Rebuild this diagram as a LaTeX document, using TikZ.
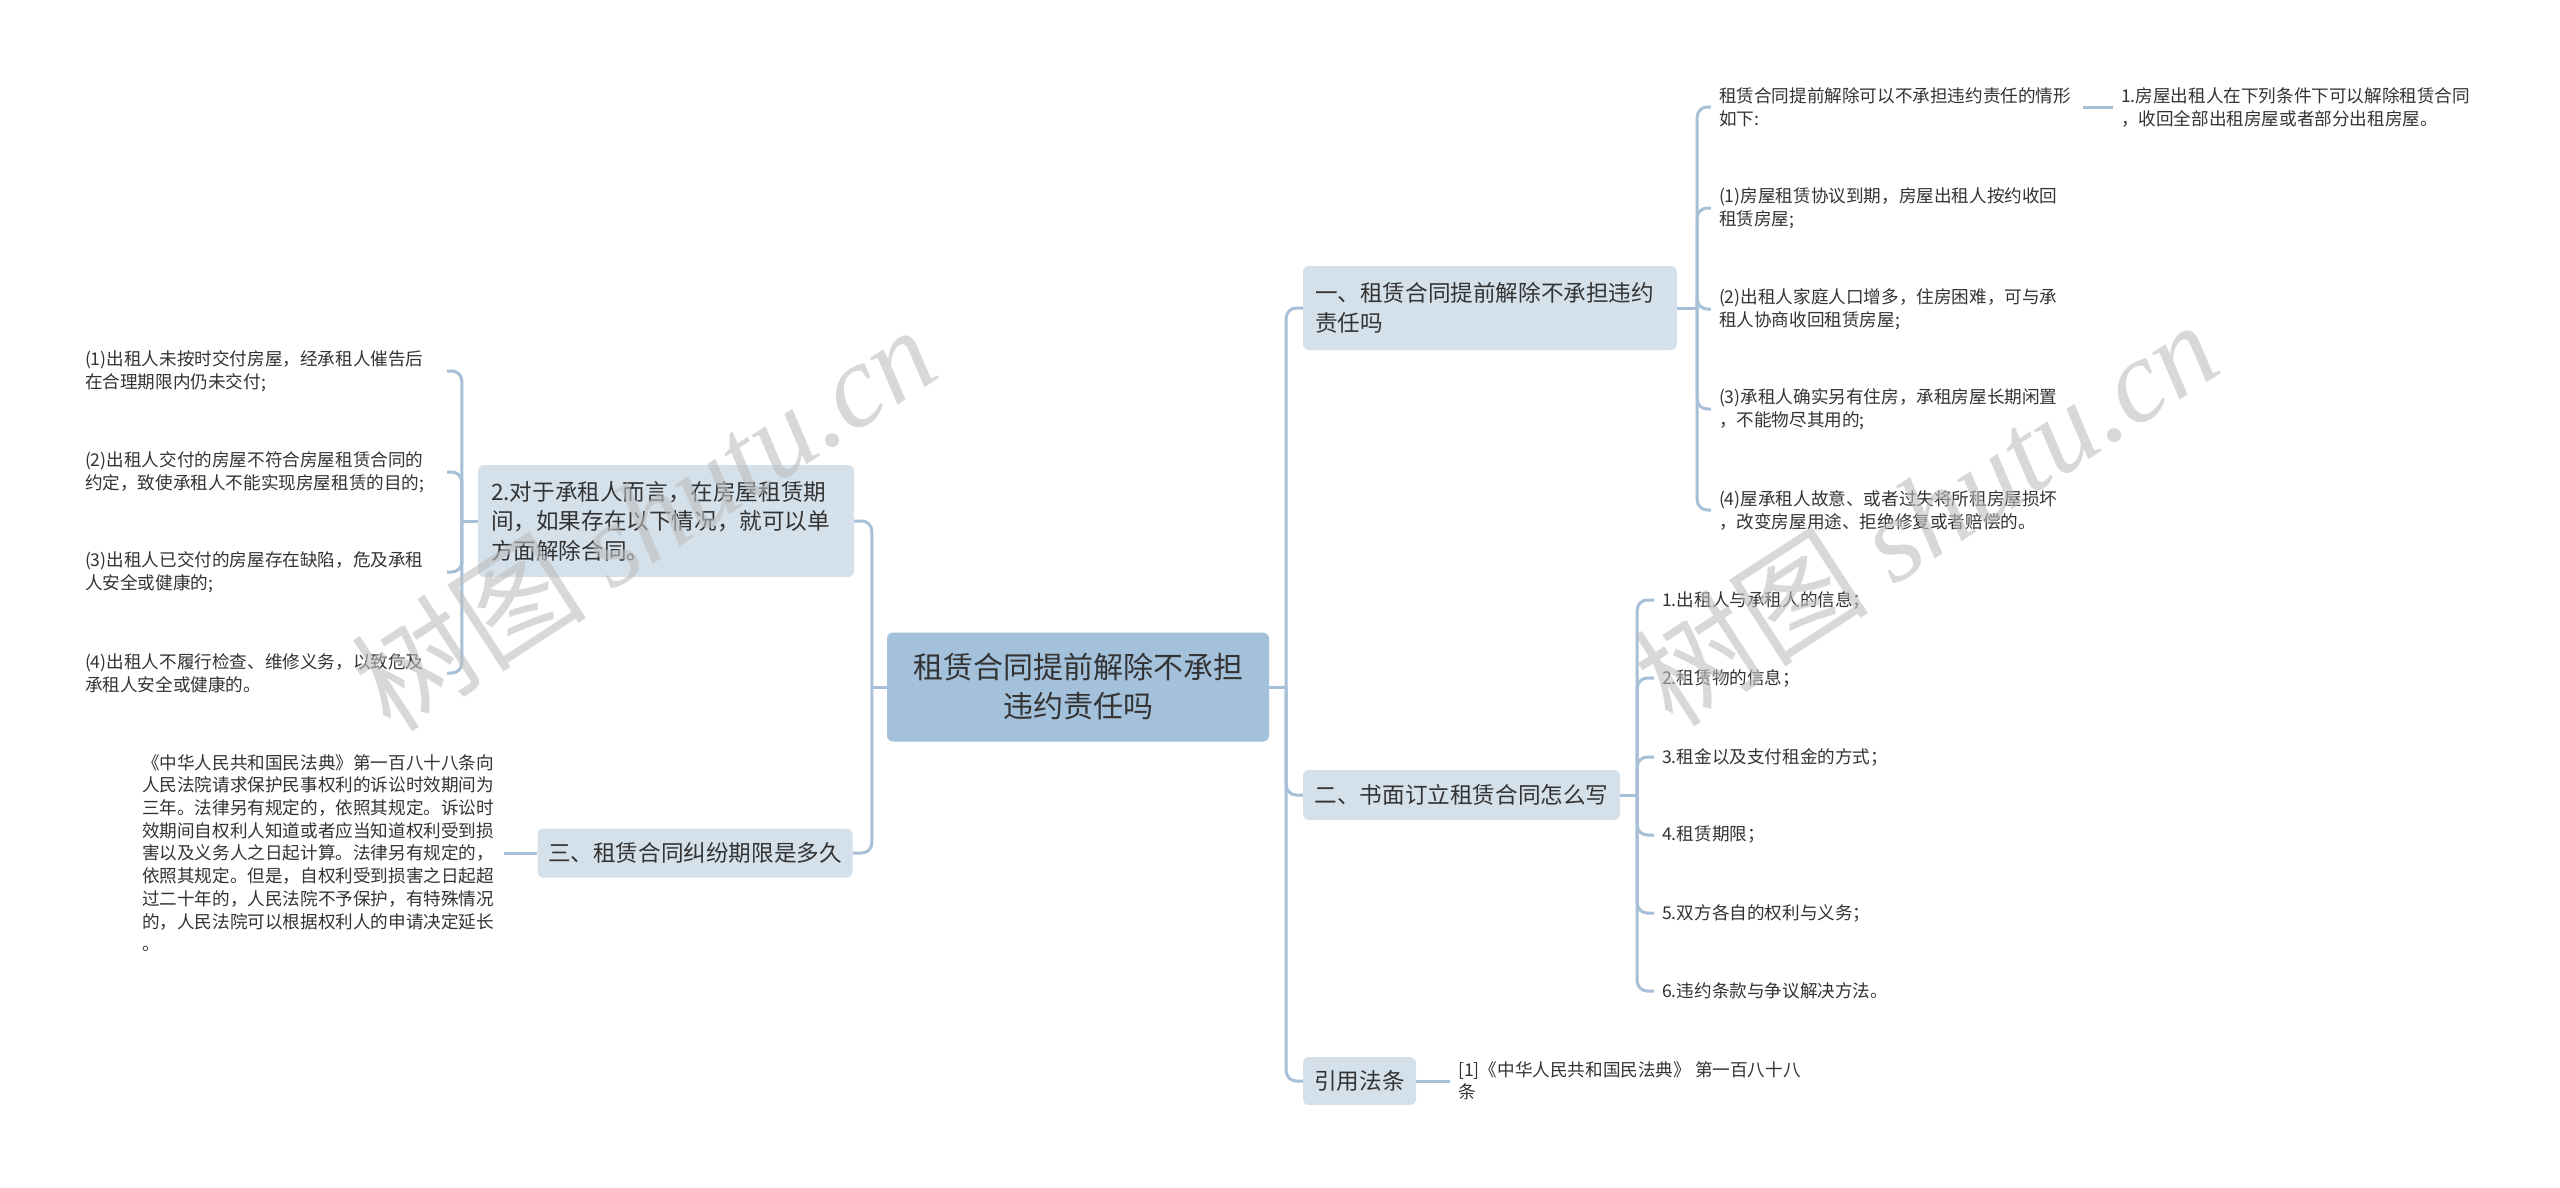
\documentclass[tikz,border=0pt]{standalone}
\usepackage{fontspec}
\setmainfont{Noto Sans CJK SC}
\newfontfamily\wmlatin{Liberation Serif}
\definecolor{linec}{HTML}{A7C0D8}
\definecolor{rootc}{HTML}{A4C1DC}
\definecolor{subc}{HTML}{D4E0EA}
\definecolor{txt}{HTML}{333333}
\definecolor{wmc}{HTML}{BEBEBE}
\begin{document}
\begin{tikzpicture}[x=1pt,y=-1pt,
  conn/.style={draw=linec, line width=3pt, rounded corners=10pt},
  rootbox/.style={fill=rootc, rounded corners=6pt, text=txt, align=center, inner sep=0pt,
    minimum width=382pt, minimum height=109pt, font=\fontsize{30}{39}\selectfont},
  subbox/.style={fill=subc, rounded corners=6pt, text=txt, inner sep=0pt,
    font=\fontsize{22.6}{29.5}\selectfont},
  leaf/.style={text=txt, inner xsep=8pt, inner ysep=2pt, align=left,
    font=\fontsize{17.6}{23}\selectfont},
  wm/.style={text=wmc, opacity=0.6, rotate=33, font=\fontsize{118}{118}\selectfont}
]
\path[use as bounding box, fill=white] (0,0) rectangle (2560,1187);

% main nodes
\node[rootbox] (root) at (1078,687) {租赁合同提前解除不承担\\违约责任吗};
\node[subbox, text width=350pt, align=left, inner xsep=13pt, minimum height=112pt] (A) at (666,521)
  {2.对于承租人而言，在房屋租赁期\\间，如果存在以下情况，就可以单\\方面解除合同。};
\node[subbox, minimum width=315pt, minimum height=49pt] (B) at (695,853) {三、租赁合同纠纷期限是多久};
\node[subbox, text width=350pt, align=left, inner xsep=12pt, minimum height=84pt] (n1) at (1490,308)
  {一、租赁合同提前解除不承担违约\\责任吗};
\node[subbox, minimum width=317pt, minimum height=50pt] (n2) at (1461.5,795) {二、书面订立租赁合同怎么写};
\node[subbox, minimum width=113pt, minimum height=48pt] (n3) at (1359.5,1081) {引用法条};

% left leaves of A
\node[leaf, text width=356pt, inner xsep=6pt] (a1) at (263,371) {(1)出租人未按时交付房屋，经承租人催告后\\在合理期限内仍未交付;};
\node[leaf, text width=356pt, inner xsep=6pt] (a2) at (263,472) {(2)出租人交付的房屋不符合房屋租赁合同的\\约定，致使承租人不能实现房屋租赁的目的;};
\node[leaf, text width=356pt, inner xsep=6pt] (a3) at (263,572) {(3)出租人已交付的房屋存在缺陷，危及承租\\人安全或健康的;};
\node[leaf, text width=356pt, inner xsep=6pt] (a4) at (263,673) {(4)出租人不履行检查、维修义务，以致危及\\承租人安全或健康的。};

% leaf of B
\node[leaf, text width=356pt, inner xsep=6pt, font=\fontsize{17.6}{22.7}\selectfont] (b1) at (320,853)
  {《中华人民共和国民法典》第一百八十八条向\\人民法院请求保护民事权利的诉讼时效期间为\\三年。法律另有规定的，依照其规定。诉讼时\\效期间自权利人知道或者应当知道权利受到损\\害以及义务人之日起计算。法律另有规定的，\\依照其规定。但是，自权利受到损害之日起超\\过二十年的，人民法院不予保护，有特殊情况\\的，人民法院可以根据权利人的申请决定延长\\。};

% leaves of n1
\node[leaf, text width=356pt] (c1) at (1897,107) {租赁合同提前解除可以不承担违约责任的情形\\如下:};
\node[leaf, text width=356pt] (c2) at (1897,208) {(1)房屋租赁协议到期，房屋出租人按约收回\\租赁房屋;};
\node[leaf, text width=356pt] (c3) at (1897,309) {(2)出租人家庭人口增多，住房困难，可与承\\租人协商收回租赁房屋;};
\node[leaf, text width=356pt] (c4) at (1897,409) {(3)承租人确实另有住房，承租房屋长期闲置\\，不能物尽其用的;};
\node[leaf, text width=356pt] (c5) at (1897,510) {(4)屋承租人故意、或者过失将所租房屋损坏\\，改变房屋用途、拒绝修复或者赔偿的。};
\node[leaf, text width=356pt] (c0) at (2299,107) {1.房屋出租人在下列条件下可以解除租赁合同\\，收回全部出租房屋或者部分出租房屋。};

% leaves of n2
\node[leaf, anchor=west] (e1) at (1654,600) {1.出租人与承租人的信息；};
\node[leaf, anchor=west] (e2) at (1654,678) {2.租赁物的信息；};
\node[leaf, anchor=west] (e3) at (1654,757) {3.租金以及支付租金的方式；};
\node[leaf, anchor=west] (e4) at (1654,835) {4.租赁期限；};
\node[leaf, anchor=west] (e5) at (1654,913) {5.双方各自的权利与义务；};
\node[leaf, anchor=west] (e6) at (1654,991) {6.违约条款与争议解决方法。};

% leaf of n3
\node[leaf, anchor=west, font=\fontsize{17.6}{22}\selectfont] (d1) at (1450,1081) {[1]《中华人民共和国民法典》 第一百八十八\\条};

% connectors: left
\draw[conn] (root.west) -- ++(-15,0) coordinate (lj);
\draw[conn] (lj) |- (A.east);
\draw[conn] (lj) |- (B.east);
\draw[conn] (A.west) -- ++(-16,0) coordinate (aj);
\foreach \n in {a1,a2,a3,a4} \draw[conn] (aj) |- (\n.east);
\draw[conn] (B.west) -- (b1.east);

% connectors: right
\draw[conn] (root.east) -- ++(17,0) coordinate (rj);
\draw[conn] (rj) |- (n1.west);
\draw[conn] (rj) |- (n2.west);
\draw[conn] (rj) |- (n3.west);
\draw[conn] (n1.east) -- ++(20,0) coordinate (cj);
\foreach \n in {c1,c2,c3,c4,c5} \draw[conn] (cj) |- (\n.west);
\draw[conn] (c1.east) -- (c0.west);
\draw[conn] (n2.east) -- ++(17,0) coordinate (ej);
\foreach \n in {e1,e2,e3,e4,e5,e6} \draw[conn] (ej) |- (\n.west);
\draw[conn] (n3.east) -- (d1.west);

% watermarks
\node[wm] (wm1) at (643,517) {树图 {\wmlatin\itshape shutu.cn}};
\node[wm] (wm2) at (1925,512) {树图 {\wmlatin\itshape shutu.cn}};
\end{tikzpicture}
\end{document}
